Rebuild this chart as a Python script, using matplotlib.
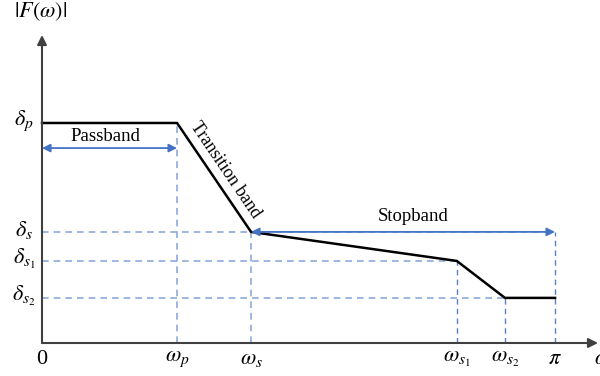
import numpy as np
import matplotlib.pyplot as plt

plt.rcParams['mathtext.fontset'] = 'stix'
plt.rcParams['font.family'] = 'Liberation Serif'

# band edges (rad) and magnitude levels
w_p, w_s, w_s1, w_s2 = 0.827, 1.28, 2.54, 2.835
d_p, d_s, d_s1, d_s2 = 1.0, 0.505, 0.373, 0.205

omega = [0, w_p, w_s, w_s1, w_s2, np.pi]
mag = [d_p, d_p, d_s, d_s1, d_s2, d_s2]

xticks = [0, w_p, w_s, w_s1, w_s2, np.pi]
xticklabels = ['0', r'$\omega_p$', r'$\omega_s$', r'$\omega_{s_1}$',
               r'$\omega_{s_2}$', r'$\pi$']
yticks = [d_p, d_s, d_s1, d_s2]
yticklabels = [r'$\delta_p$', r'$\delta_s$', r'$\delta_{s_1}$',
               r'$\delta_{s_2}$']

fig = plt.figure(figsize=(6, 3.76), dpi=100)
ax = fig.add_axes([0, 0, 1, 1])
ax.set_xlim(-0.2572, 3.417)
ax.set_ylim(-0.15, 1.559)
ax.axis('off')

light = '#8eaadb'
mid = '#5b80c8'
blue = '#4472c4'
dash = (0, (4, 3))

# guide lines
ax.plot([w_p, w_p], [0, d_p], color=light, lw=1.2, linestyle=dash)
ax.plot([w_s, w_s], [0, d_s], color=light, lw=1.2, linestyle=dash)
ax.plot([w_s1, w_s1], [0, d_s1], color=mid, lw=1.0, linestyle=dash)
ax.plot([w_s2, w_s2], [0, d_s2], color=mid, lw=1.0, linestyle=dash)
ax.plot([np.pi, np.pi], [0, d_s], color=mid, lw=1.0, linestyle=dash)
ax.plot([0, np.pi], [d_s, d_s], color=light, lw=1.2, linestyle=dash)
ax.plot([0, w_s1], [d_s1, d_s1], color=light, lw=1.2, linestyle=dash)
ax.plot([0, w_s2], [d_s2, d_s2], color=light, lw=1.2, linestyle=dash)

# response
ax.plot(omega, mag, color='black', lw=1.8, solid_joinstyle='miter')

# axes with arrows
axc = '#404040'
ax.annotate('', xy=(3.405, 0), xytext=(0, 0),
            arrowprops=dict(arrowstyle='-|>', color=axc, lw=1.5,
                            mutation_scale=14, shrinkA=0, shrinkB=0))
ax.annotate('', xy=(0, 1.40), xytext=(0, 0),
            arrowprops=dict(arrowstyle='-|>', color=axc, lw=1.5,
                            mutation_scale=14, shrinkA=0, shrinkB=0))

# band arrows
pb_y = 0.886
ax.annotate('', xy=(w_p, pb_y), xytext=(0, pb_y),
            arrowprops=dict(arrowstyle='<|-|>', color=blue, lw=1.3,
                            mutation_scale=12, shrinkA=0, shrinkB=0))
ax.annotate('', xy=(np.pi, d_s), xytext=(w_s, d_s),
            arrowprops=dict(arrowstyle='<|-|>', color=blue, lw=1.3,
                            mutation_scale=12, shrinkA=0, shrinkB=0))

ax.text(0.386, 0.94, 'Passband', fontsize=13.5, ha='center', va='center')
ax.text(2.272, 0.573, 'Stopband', fontsize=13.5, ha='center', va='center')
ax.text(1.121, 0.786, 'Transition band', fontsize=13, rotation=-55.8,
        rotation_mode='anchor', ha='center', va='center')

# tick labels
for x, lab in zip(xticks, xticklabels):
    ax.text(x, -0.03, lab, fontsize=16, ha='center', va='top')
ax.text(3.43, -0.03, r'$\omega$', fontsize=16, ha='center', va='top')
for y, lab in zip(yticks, yticklabels):
    ax.text(-0.11, y + 0.01, lab, fontsize=16, ha='center', va='center')
ax.text(-0.01, 1.505, r'$|F(\omega)|$', fontsize=16, ha='center',
        va='center')

fig.savefig('out.png', dpi=100)
